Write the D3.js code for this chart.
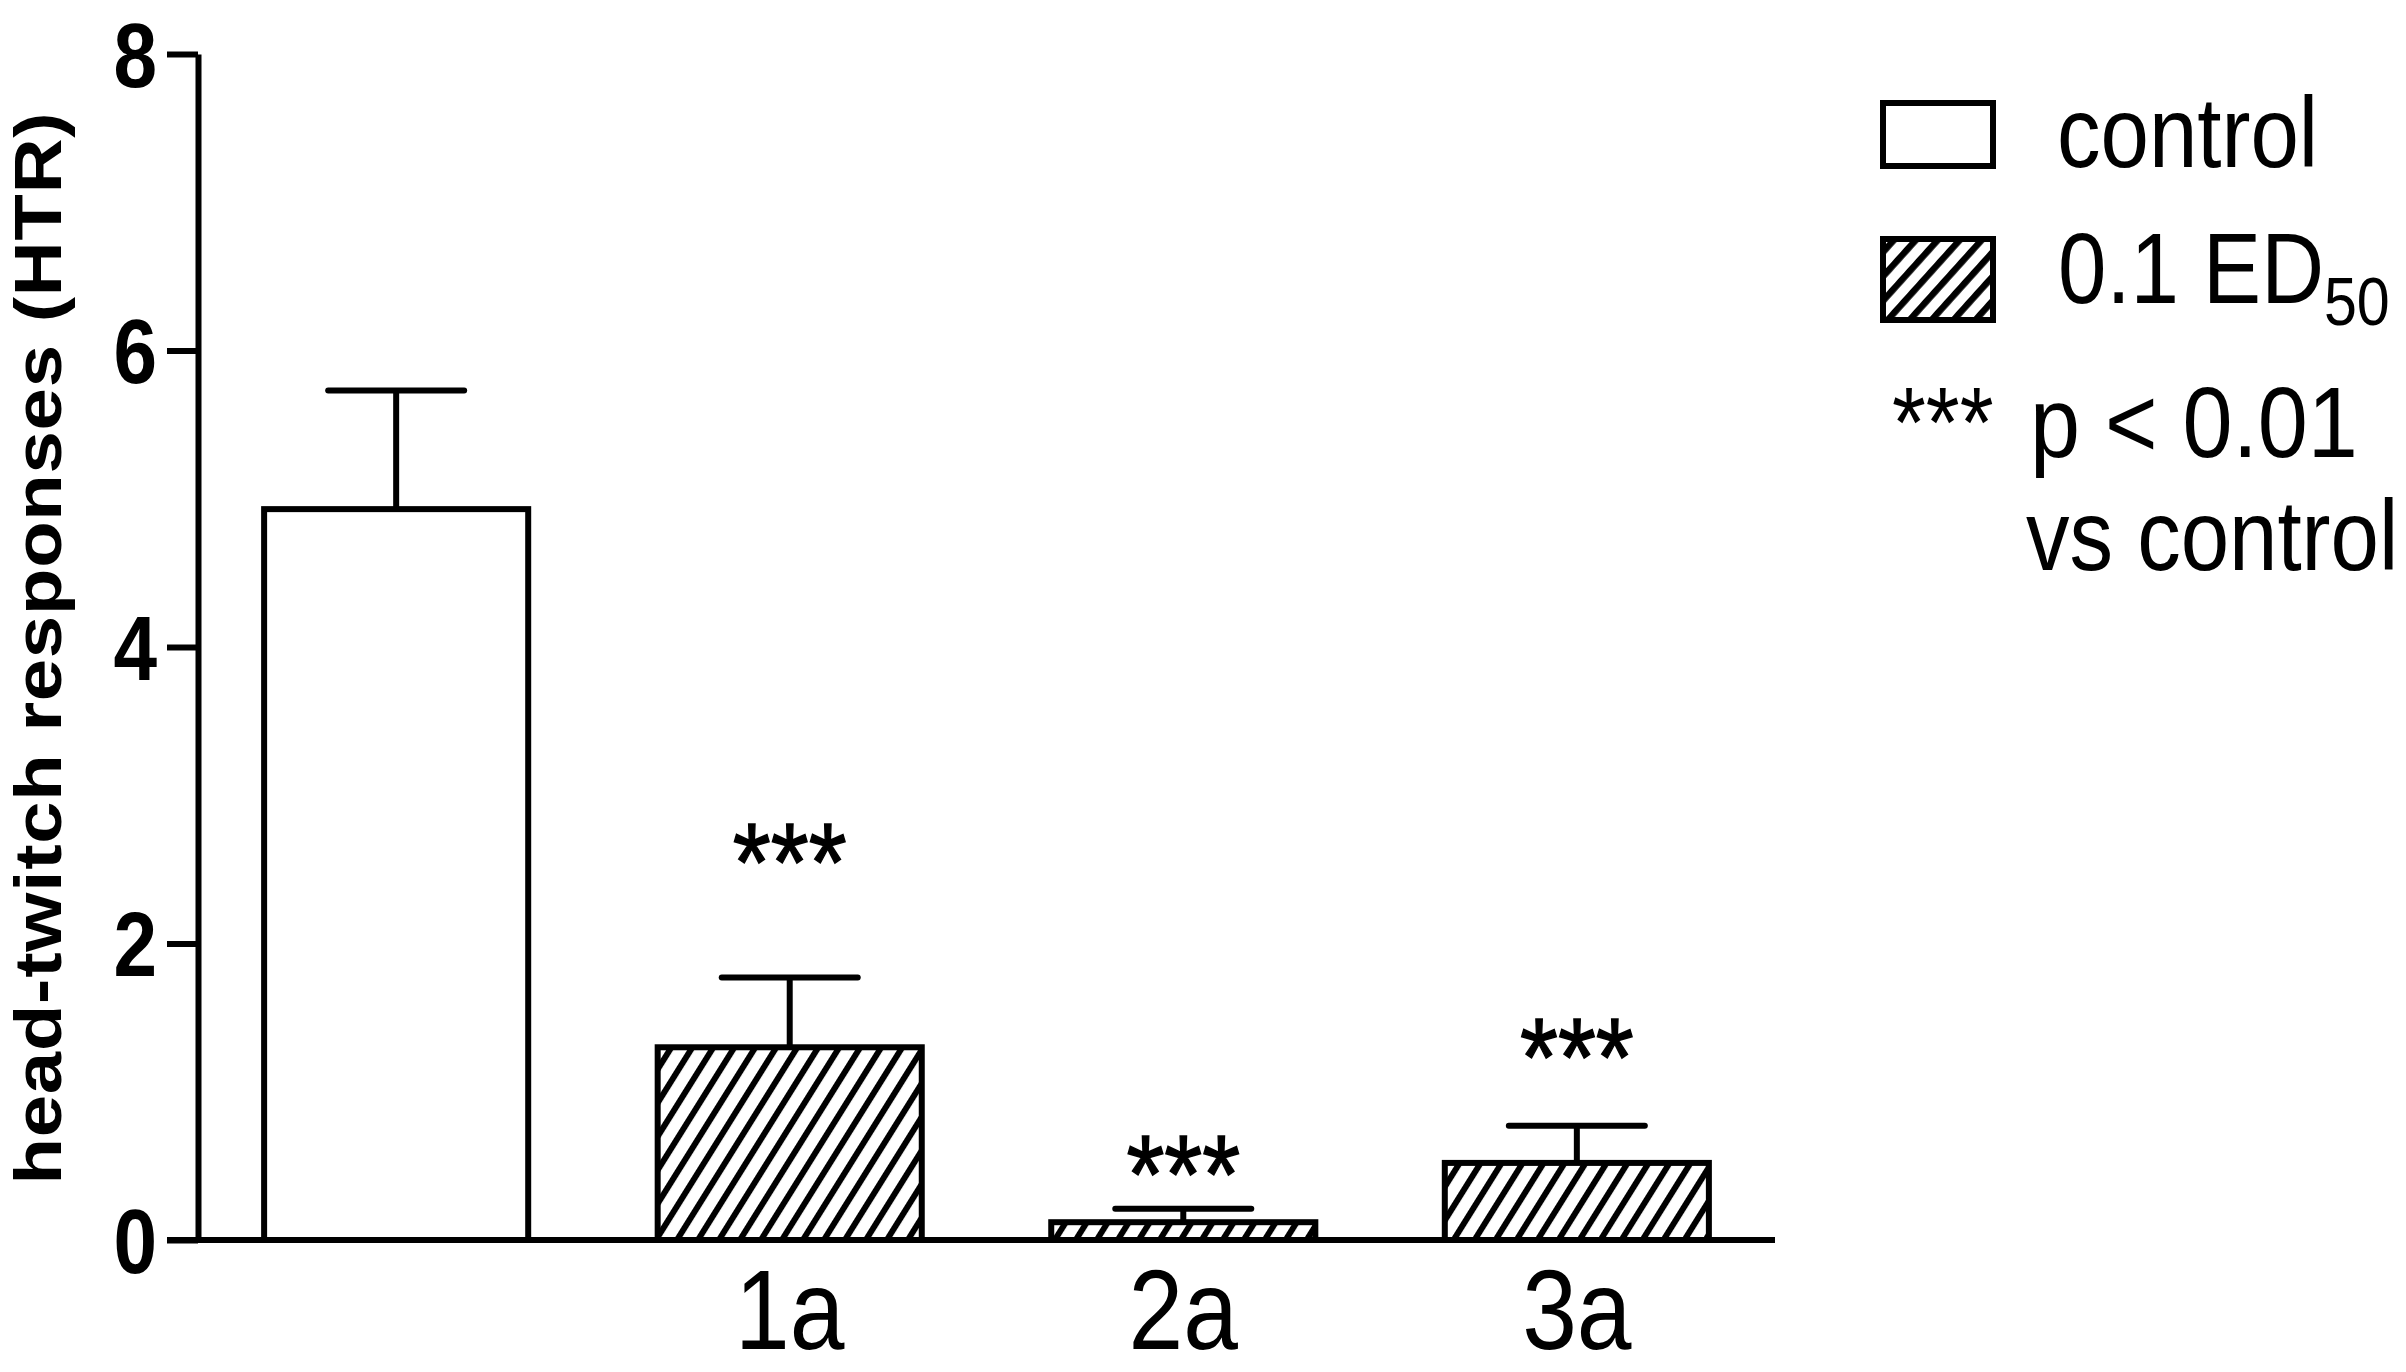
<!DOCTYPE html>
<html>
<head>
<meta charset="utf-8">
<script src="https://cdn.jsdelivr.net/npm/d3@7"></script>
<style>
  html, body { margin: 0; padding: 0; background: #fff; }
  svg { display: block; }
  text { font-family: Arial, "Liberation Sans", sans-serif; fill: #000; }
</style>
</head>
<body>
<svg id="chart" width="2406" height="1372"></svg>
<script>
// ---- data ----
const categories = ["control", "1a", "2a", "3a"];
const categoryLabels = ["", "1a", "2a", "3a"];
const groups = ["control", "treated", "treated", "treated"];
const means = [4.93, 1.30, 0.12, 0.52];
const errorTops = [5.73, 1.77, 0.21, 0.77];
const starLevels = [null, 2.72, 0.61, 1.40];
const starText = "***";
const yTicks = [0, 2, 4, 6, 8];
const yLabel = "head-twitch responses (HTR)";
const legendLabels = ["control", "0.1 ED"];
const legendSub = "50";
const noteStars = "***";
const noteLine1 = "p < 0.01";
const noteLine2 = "vs control";

// ---- layout ----
const SX = 0.87; // horizontal condensation of all text
const svg = d3.select("#chart");
const y = d3.scaleLinear().domain([0, 8]).range([1240, 54]);
const x = d3.scaleBand().domain(categories).range([198, 1775])
  .paddingInner(0.329).paddingOuter(0.168);
const SW = 6;

const defs = svg.append("defs");
function hatch(id, period, angle, thick) {
  const p = defs.append("pattern").attr("id", id)
    .attr("patternUnits", "userSpaceOnUse")
    .attr("width", period).attr("height", 40)
    .attr("patternTransform", `rotate(${angle})`);
  p.append("rect").attr("width", period).attr("height", 40).attr("fill", "#fff");
  p.append("rect").attr("x", 0).attr("width", thick).attr("height", 40).attr("fill", "#000");
}
hatch("hatchBar", 17.8, 32, 6);
hatch("hatchLegend", 16.3, 42, 6.5);

// ---- bars ----
const data = categories.map((c, i) => ({ c, g: groups[i], m: means[i], e: errorTops[i], s: starLevels[i] }));

const eb = svg.append("g");
data.forEach(d => {
  const cx = x(d.c) + x.bandwidth() / 2;
  eb.append("line").attr("x1", cx).attr("x2", cx).attr("y1", y(d.m)).attr("y2", y(d.e))
    .attr("stroke", "#000").attr("stroke-width", SW);
  eb.append("line").attr("x1", cx - 68).attr("x2", cx + 68).attr("y1", y(d.e)).attr("y2", y(d.e))
    .attr("stroke", "#000").attr("stroke-width", SW).attr("stroke-linecap", "round");
});

svg.append("g").selectAll("rect").data(data).join("rect")
  .attr("x", d => x(d.c))
  .attr("y", d => y(d.m))
  .attr("width", x.bandwidth())
  .attr("height", d => y(0) - y(d.m))
  .attr("fill", d => d.g === "control" ? "#fff" : "url(#hatchBar)")
  .attr("stroke", "#000").attr("stroke-width", SW);

// significance stars
const STAR_FS = 112;
svg.append("g").selectAll("text").data(data.filter(d => d.s !== null)).join("text")
  .attr("transform", d => `translate(${x(d.c) + x.bandwidth() / 2},${y(d.s) + 0.57 * STAR_FS}) scale(${SX},1)`)
  .attr("text-anchor", "middle")
  .style("font-size", STAR_FS + "px")
  .style("stroke", "#000").style("stroke-width", "1.5px")
  .text(starText);

// ---- y axis ----
const yAxis = svg.append("g").attr("transform", "translate(198,0)")
  .call(d3.axisLeft(y).tickValues(yTicks).tickSize(31).tickSizeOuter(0).tickPadding(0));
yAxis.select(".domain").attr("stroke", "#000").attr("stroke-width", SW);
yAxis.selectAll(".tick line").attr("stroke", "#000").attr("stroke-width", SW);
yAxis.selectAll(".tick text")
  .attr("x", null).attr("dy", null)
  .attr("transform", `translate(-41,${0.358 * 90}) scale(${SX},1)`)
  .attr("text-anchor", "end")
  .style("font-size", "90px").style("font-weight", "bold")
  .style("font-family", 'Arial, "Liberation Sans", sans-serif');

// ---- x axis ----
svg.append("line").attr("x1", 167).attr("x2", 1775).attr("y1", y(0)).attr("y2", y(0))
  .attr("stroke", "#000").attr("stroke-width", SW);
const xAxis = svg.append("g").attr("transform", `translate(0,${y(0)})`)
  .call(d3.axisBottom(x).tickSize(0).tickFormat((d, i) => categoryLabels[i]));
xAxis.select(".domain").remove();
xAxis.selectAll(".tick text")
  .attr("y", null).attr("dy", null)
  .attr("transform", `translate(0,109) scale(${SX},1)`)
  .attr("text-anchor", "middle")
  .style("font-size", "113px")
  .style("font-family", 'Arial, "Liberation Sans", sans-serif');

// ---- y label ----
svg.append("text")
  .attr("transform", `translate(61,648) scale(${SX},1) rotate(-90)`)
  .attr("text-anchor", "middle")
  .style("font-size", "76px").style("font-weight", "bold")
  .style("letter-spacing", "0.8px")
  .text(yLabel);

// ---- legend ----
const lg = svg.append("g");
lg.append("rect").attr("x", 1883).attr("y", 103).attr("width", 110).attr("height", 63)
  .attr("fill", "#fff").attr("stroke", "#000").attr("stroke-width", SW);
lg.append("rect").attr("x", 1883).attr("y", 239).attr("width", 110).attr("height", 81)
  .attr("fill", "url(#hatchLegend)").attr("stroke", "#000").attr("stroke-width", SW);
lg.append("text").attr("transform", `translate(2057,167) scale(${SX},1)`)
  .style("font-size", "100px").text(legendLabels[0]);
const t2 = lg.append("text").attr("transform", `translate(2058,303) scale(${SX},1)`)
  .style("font-size", "100px");
t2.append("tspan").text(legendLabels[1]);
t2.append("tspan").attr("dy", 22).style("font-size", "68px").text(legendSub);
lg.append("text").attr("transform", `translate(1892,457) scale(${SX},1)`)
  .style("font-size", "100px").text(noteStars);
lg.append("text").attr("transform", `translate(2030,457) scale(0.9,1)`)
  .style("font-size", "100px").text(noteLine1);
lg.append("text").attr("transform", `translate(2026,570) scale(${SX},1)`)
  .style("font-size", "100px").text(noteLine2);
</script>
</body>
</html>
